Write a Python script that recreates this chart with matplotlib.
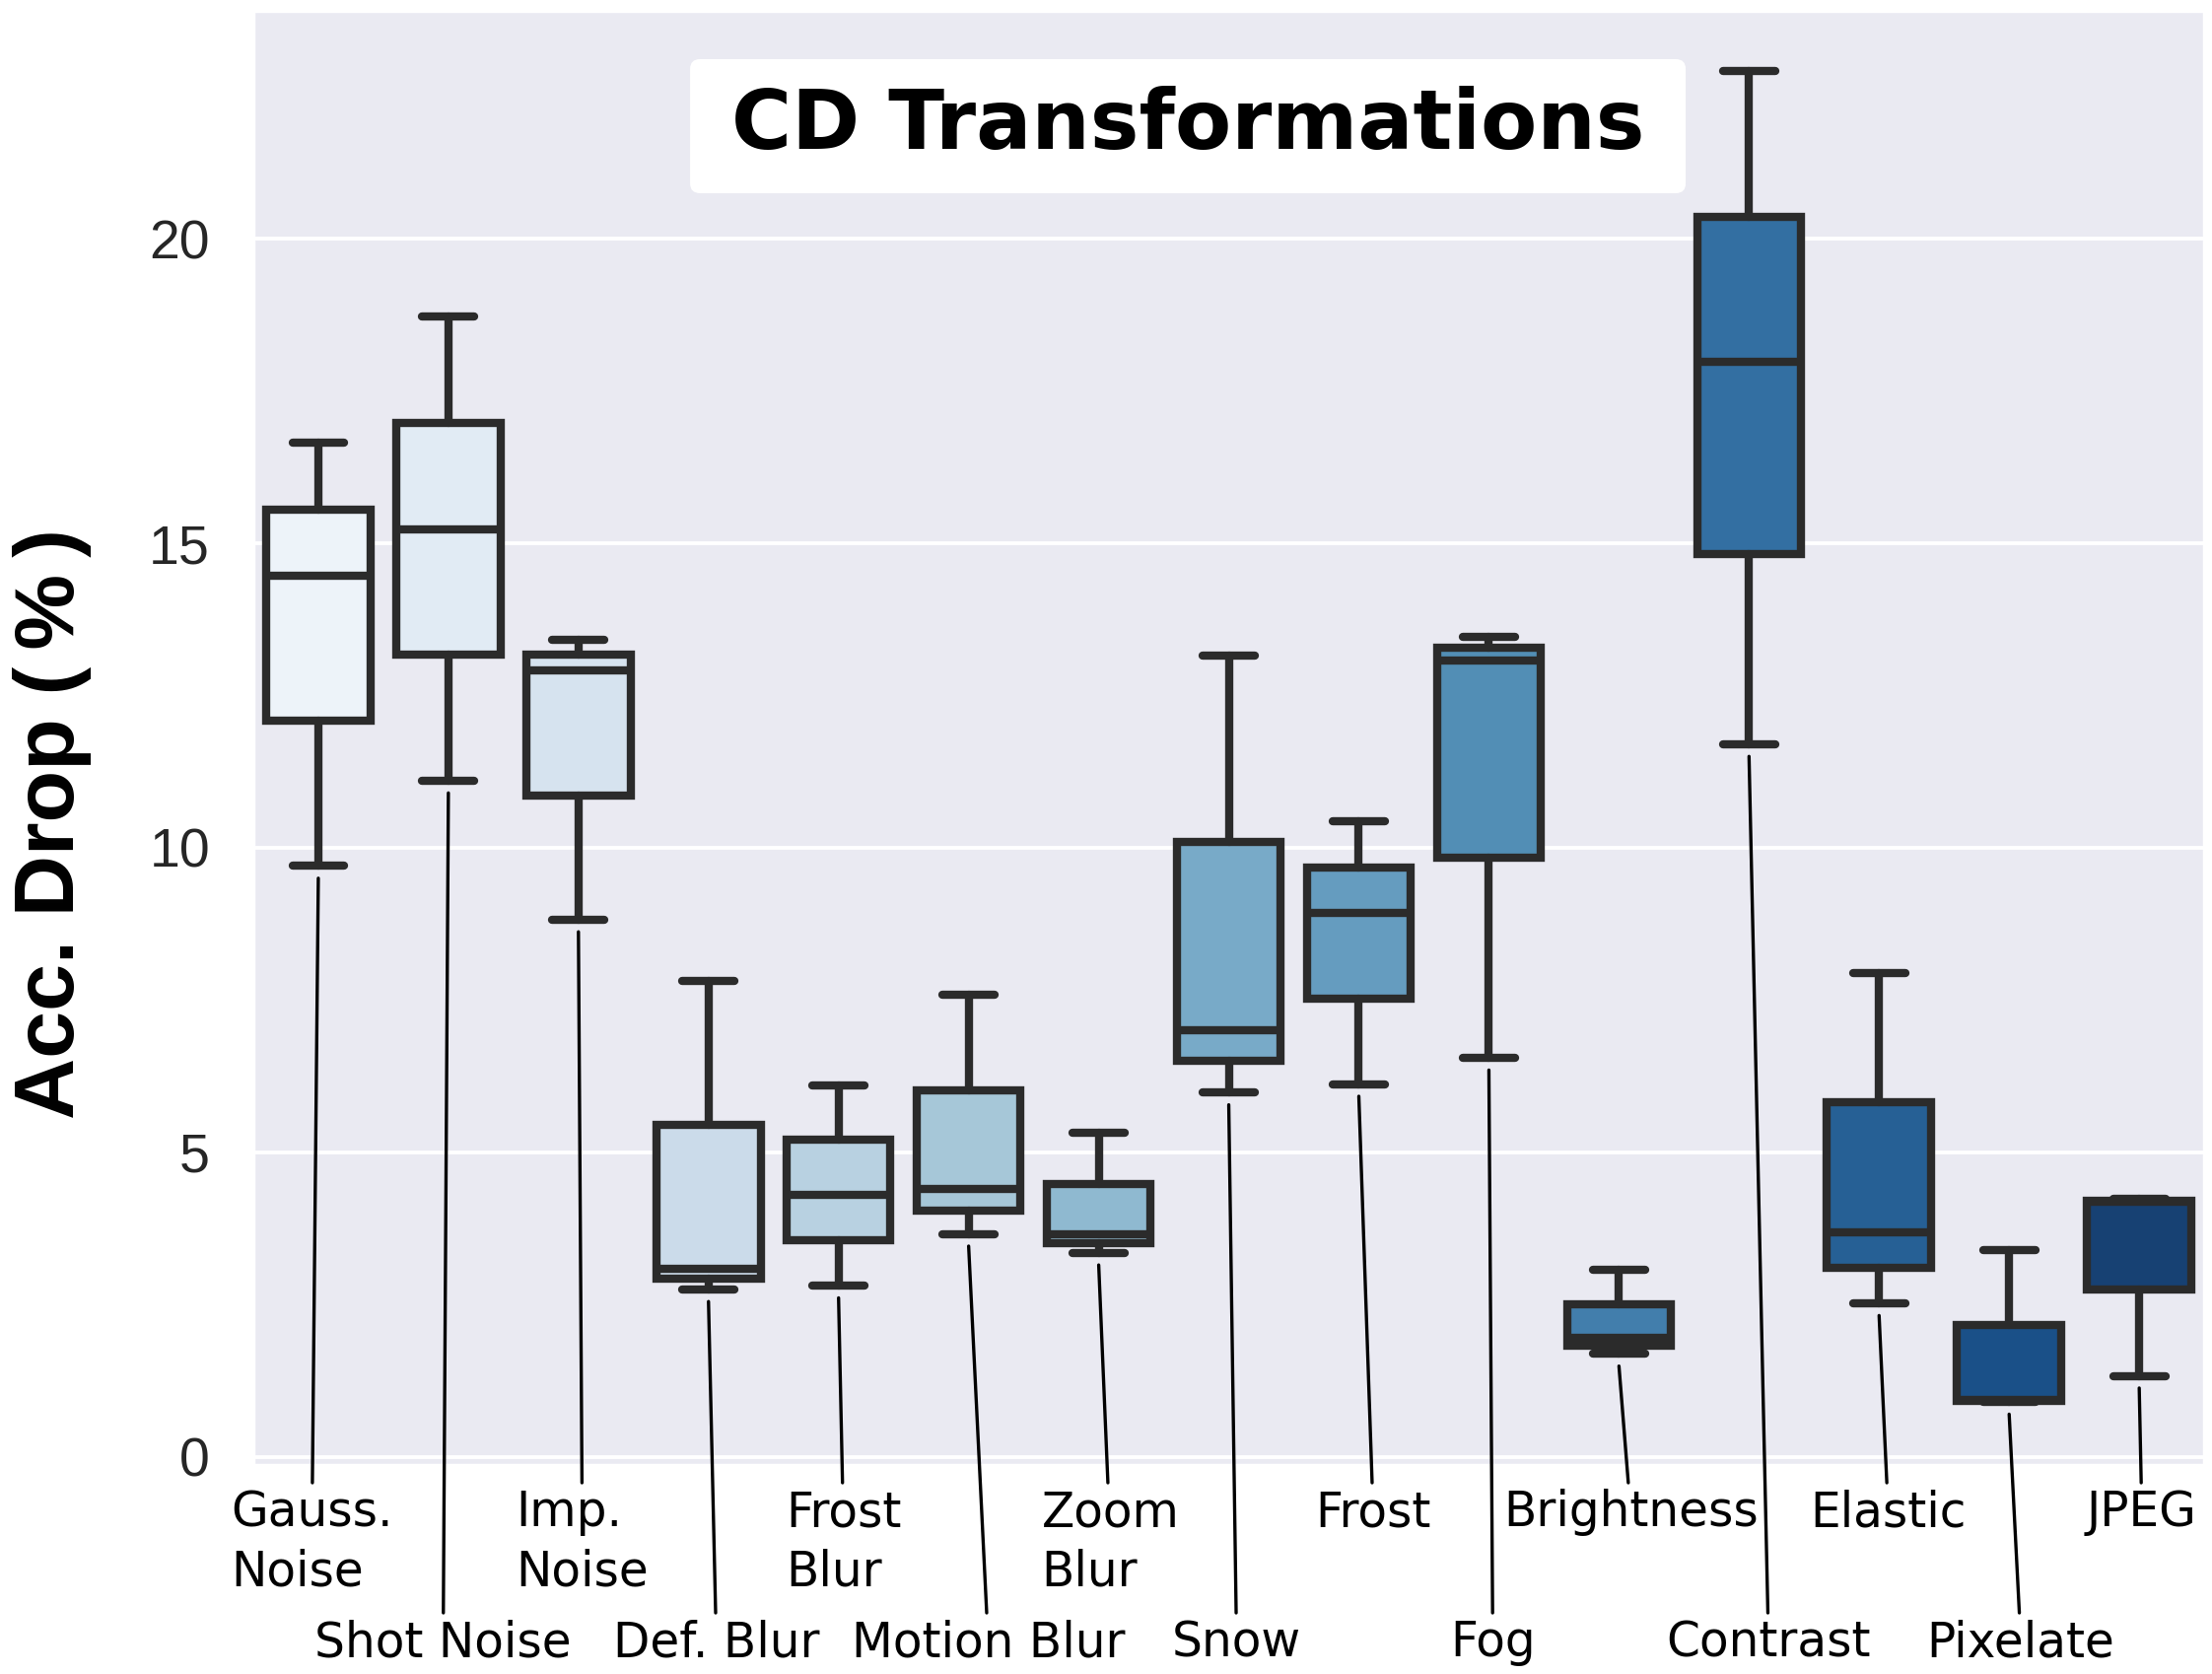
import matplotlib
matplotlib.use("Agg")
import matplotlib.pyplot as plt
import matplotlib.transforms as mtransforms
from matplotlib.patches import FancyBboxPatch
import seaborn as sns

# box statistics (accuracy drop in %)
names = ["Gauss.\nNoise", "Shot Noise", "Imp.\nNoise", "Def. Blur", "Frost\nBlur",
         "Motion Blur", "Zoom\nBlur", "Snow", "Frost", "Fog", "Brightness",
         "Contrast", "Elastic", "Pixelate", "JPEG"]
whislo = [9.70, 11.10, 8.82, 2.75, 2.81, 3.66, 3.35, 5.98, 6.12, 6.55, 1.69, 11.70, 2.52, 0.90, 1.33]
q1 = [12.09, 13.17, 10.86, 2.92, 3.56, 4.04, 3.50, 6.50, 7.52, 9.84, 1.82, 14.83, 3.10, 0.92, 2.75]
med = [14.46, 15.23, 12.91, 3.08, 4.30, 4.40, 3.65, 7.01, 8.93, 13.08, 1.95, 17.98, 3.69, 0.93, 4.19]
q3 = [15.55, 16.97, 13.17, 5.45, 5.20, 6.01, 4.48, 10.09, 9.68, 13.28, 2.50, 20.35, 5.83, 2.16, 4.20]
whishi = [16.65, 18.72, 13.41, 7.81, 6.10, 7.58, 5.32, 13.15, 10.43, 13.46, 3.07, 22.75, 7.95, 3.39, 4.24]

# small horizontal nudges of the labels (layout only)
label_dx = [-0.05, -0.04, 0.03, 0.06, 0.04, 0.15, 0.09, 0.06, 0.11, 0.03, 0.09, 0.15, 0.07, 0.09, 0.02]

sns.set_theme(style="darkgrid")

line_col = "#2b2b2b"
colors = [sns.desaturate(c, 0.75) for c in sns.color_palette("Blues", len(names))]

fig = plt.figure(figsize=(11.22, 8.49), dpi=200)
ax = fig.add_axes([0.1145, 0.125, 0.882, 0.8685])

stats = []
for i in range(len(names)):
    stats.append(dict(whislo=whislo[i], q1=q1[i], med=med[i], q3=q3[i],
                      whishi=whishi[i], fliers=[]))

lw = 3
bp = ax.bxp(stats, positions=range(len(names)), widths=0.8, capwidths=0.4,
            patch_artist=True, showfliers=False,
            boxprops=dict(linewidth=lw, edgecolor=line_col),
            whiskerprops=dict(linewidth=lw, color=line_col),
            capprops=dict(linewidth=lw, color=line_col, solid_capstyle="round"),
            medianprops=dict(linewidth=lw, color=line_col))
for patch, c in zip(bp["boxes"], colors):
    patch.set_facecolor(c)

ax.set_xlim(-0.5, len(names) - 0.5)
ax.set_ylim(-0.13, 23.74)
ax.set_yticks([0, 5, 10, 15, 20])
ax.set_xticks([])
ax.grid(axis="x", visible=False)
ax.grid(axis="y", color="white", linewidth=1.4)
ax.tick_params(axis="y", length=0, pad=15.8, labelsize=20, labelcolor=".15")
for lab in ax.get_yticklabels():
    lab.set_family("Liberation Sans")

# labels under the boxes, alternating rows, with leader lines
trans = mtransforms.blended_transform_factory(ax.transData, ax.transAxes)
for i, name in enumerate(names):
    row_y = -0.0165 if i % 2 == 0 else -0.106
    ax.annotate(name, xy=(i, whislo[i] - 0.2), xycoords="data",
                xytext=(i + label_dx[i], row_y), textcoords=trans,
                ha="center", va="top", multialignment="left", linespacing=1.33,
                fontsize=17.5, family="DejaVu Sans", color="black",
                annotation_clip=False,
                arrowprops=dict(arrowstyle="-", color="black", lw=1.2,
                                shrinkA=0, shrinkB=0))

# title in a white rounded box
box = FancyBboxPatch((0.2239, 0.8746), 0.5103, 0.0922, transform=ax.transAxes,
                     boxstyle="round,pad=0,rounding_size=0.005",
                     mutation_aspect=1979 / 1475, fc="white", ec="none", zorder=4)
ax.add_patch(box)
ax.text(0.479, 0.921, "CD Transformations", transform=ax.transAxes,
        ha="center", va="center", fontsize=30, fontweight="bold",
        family="DejaVu Sans", color="black", zorder=5)

ax.text(-0.092, 0.238, "Acc. Drop (\u2009%\u2009)", transform=ax.transAxes, rotation=90,
        rotation_mode="anchor", ha="left", va="baseline", fontsize=31,
        fontweight="bold", family=["Liberation Sans", "DejaVu Sans"], color="black")

fig.savefig("out.png", dpi=200)
